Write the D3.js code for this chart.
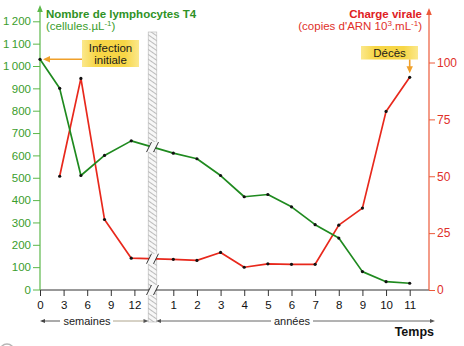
<!DOCTYPE html>
<html><head><meta charset="utf-8">
<script src="https://cdn.jsdelivr.net/npm/d3@7"></script>
<style>
body{margin:0;background:#fff}
svg text{font-family:"Liberation Sans",Arial,Helvetica,sans-serif}
</style>
</head><body>
<svg id="chart" width="464" height="346"></svg>
<script>
// Time: first weeks after infection, then years
const weekTicks = [0, 3, 6, 9, 12];
const yearTicks = [1, 2, 3, 4, 5, 6, 7, 8, 9, 10, 11];
const sampleWeeks = [0, 2.5, 5.2, 8.2, 11.6];
const sampleYears = [1, 2, 3, 4, 5, 6, 7, 8, 9, 10, 11];
// T4 lymphocytes (cells per µL)
const lymphoWeeks = [1030, 900, 510, 600, 665];
const lymphoYears = [610, 585, 510, 415, 425, 370, 290, 230, 80, 35, 28];
// Viral load (thousand RNA copies per mL); no measurement at week 0
const viralWeeks = [null, 50, 93, 31, 14];
const viralYears = [13.5, 13, 16.5, 10, 11.5, 11.3, 11.3, 28.5, 36, 78.5, 93.5];
const leftTicks = d3.range(0, 1201, 100);
const rightTicks = [0, 25, 50, 75, 100];

const GREEN_LINE = "#1f8a1f", GREEN_TXT = "#3a9d2c", GREEN_AXIS = "#5cb84a";
const RED_LINE = "#e8281c", RED_TXT = "#e0302a", RED_AXIS = "#ec5a3a";
const ORANGE = "#f0a02a";

const svg = d3.select("#chart");
const defs = svg.append("defs");

const xW = d3.scaleLinear([0, 12], [40, 134.4]);
const xY = d3.scaleLinear([1, 11], [173.3, 409.7]);
const yL = d3.scaleLinear([0, 1200], [289.5, 21.3]);
const yR = d3.scaleLinear([0, 100], [290, 62.5]);
const breakX = 152.5;

const lympho = sampleWeeks.map((t, i) => ({x: xW(t), v: lymphoWeeks[i]}))
  .concat(sampleYears.map((t, i) => ({x: xY(t), v: lymphoYears[i]})));
const viral = sampleWeeks.map((t, i) => ({x: xW(t), v: viralWeeks[i]}))
  .concat(sampleYears.map((t, i) => ({x: xY(t), v: viralYears[i]})))
  .filter(d => d.v != null);

// hatched band marking the change of time unit
const pat = defs.append("pattern").attr("id", "hatch")
  .attr("patternUnits", "userSpaceOnUse").attr("width", 4).attr("height", 4)
  .attr("patternTransform", "rotate(-55)");
pat.append("rect").attr("width", 4).attr("height", 4).attr("fill", "#f7f7f7");
pat.append("line").attr("x1", 0).attr("y1", 0).attr("x2", 0).attr("y2", 4)
  .attr("stroke", "#a2a2a2").attr("stroke-width", 1.4);

const gBox = defs.append("linearGradient").attr("id", "boxgrad");
gBox.append("stop").attr("offset", "0%").attr("stop-color", "#fbe88c");
gBox.append("stop").attr("offset", "25%").attr("stop-color", "#f7d646");
gBox.append("stop").attr("offset", "75%").attr("stop-color", "#f7d646");
gBox.append("stop").attr("offset", "100%").attr("stop-color", "#fbe88c");

svg.append("rect").attr("x", breakX - 4.3).attr("y", 32).attr("width", 8.6).attr("height", 290)
  .attr("fill", "url(#hatch)").attr("stroke", "#b4b4b4").attr("stroke-width", 0.6);

// axes
const fmt = d3.formatLocale({decimal: ",", thousands: "\u2009", grouping: [3], currency: ["", ""]}).format(",d");

const ax = svg.append("g");
ax.append("line").attr("x1", 40).attr("x2", 429).attr("y1", 290).attr("y2", 290)
  .attr("stroke", "#333").attr("stroke-width", 1);

const gl = svg.append("g").attr("transform", "translate(40,0)")
  .call(d3.axisLeft(yL).tickValues(leftTicks).tickSize(7).tickPadding(2).tickFormat(fmt));
gl.select(".domain").remove();
gl.selectAll("line").attr("stroke", GREEN_AXIS);
gl.selectAll("text").attr("fill", GREEN_TXT).style("font-size", "11.5px");

const gr = svg.append("g").attr("transform", "translate(429,0)")
  .call(d3.axisRight(yR).tickValues(rightTicks).tickSize(6).tickPadding(2));
gr.select(".domain").remove();
gr.selectAll("line").attr("stroke", RED_AXIS);
gr.selectAll("text").attr("fill", RED_TXT).style("font-size", "12px");

[[xW, weekTicks], [xY, yearTicks]].forEach(([s, tv]) => {
  const g = svg.append("g").attr("transform", "translate(0,290)")
    .call(d3.axisBottom(s).tickValues(tv).tickSize(6).tickPadding(5));
  g.select(".domain").remove();
  g.selectAll("line").attr("stroke", "#333");
  g.selectAll("text").attr("fill", "#111").style("font-size", "11.5px");
});

// vertical axis lines with arrow heads
ax.append("line").attr("x1", 40).attr("x2", 40).attr("y1", 290).attr("y2", 9)
  .attr("stroke", GREEN_AXIS).attr("stroke-width", 1.2);
ax.append("path").attr("d", "M40,5 L37.2,12 L42.8,12 Z").attr("fill", GREEN_AXIS);
ax.append("line").attr("x1", 429).attr("x2", 429).attr("y1", 290).attr("y2", 12)
  .attr("stroke", RED_AXIS).attr("stroke-width", 1.2);
ax.append("path").attr("d", "M429,8 L426.2,15 L431.8,15 Z").attr("fill", RED_AXIS);

// data lines
const lineL = d3.line().x(d => d.x).y(d => yL(d.v));
const lineR = d3.line().x(d => d.x).y(d => yR(d.v));
svg.append("path").datum(viral).attr("d", lineR).attr("fill", "none")
  .attr("stroke", RED_LINE).attr("stroke-width", 1.7).attr("stroke-linejoin", "round");
svg.append("path").datum(lympho).attr("d", lineL).attr("fill", "none")
  .attr("stroke", GREEN_LINE).attr("stroke-width", 1.7).attr("stroke-linejoin", "round");

svg.append("g").selectAll("circle").data(lympho).join("circle")
  .attr("cx", d => d.x).attr("cy", d => yL(d.v)).attr("r", 1.6).attr("fill", "#111");
svg.append("g").selectAll("circle").data(viral).join("circle")
  .attr("cx", d => d.x).attr("cy", d => yR(d.v)).attr("r", 1.6).attr("fill", "#111");

// break marks where lines and axis cross the band
function crossY(pts, y) {
  const i = pts.findIndex(d => d.x > breakX);
  const a = pts[i - 1], b = pts[i];
  const t = (breakX - a.x) / (b.x - a.x);
  return y(a.v) + t * (y(b.v) - y(a.v));
}
function breakMark(cy) {
  const g = svg.append("g").attr("transform", `translate(${breakX},${cy})`);
  g.append("path").attr("d", "M-6,5 L-1,-5 L6,-5 L1,5 Z").attr("fill", "#f7f7f7");
  g.append("line").attr("x1", -6).attr("y1", 5).attr("x2", -1).attr("y2", -5).attr("stroke", "#222").attr("stroke-width", 0.9);
  g.append("line").attr("x1", 1).attr("y1", 5).attr("x2", 6).attr("y2", -5).attr("stroke", "#222").attr("stroke-width", 0.9);
}
breakMark(290);
breakMark(crossY(lympho, yL));
breakMark(crossY(viral, yR));

// axis titles
const tL = svg.append("g").attr("fill", GREEN_TXT);
tL.append("text").attr("x", 46).attr("y", 18).style("font-size", "11.5px").style("font-weight", "bold")
  .attr("fill", "#2f9226").text("Nombre de lymphocytes T4");
const tl2 = tL.append("text").attr("x", 46).attr("y", 30).style("font-size", "11.5px");
tl2.append("tspan").text("(cellules.µL");
tl2.append("tspan").attr("dy", -4).style("font-size", "8px").text("-1");
tl2.append("tspan").attr("dy", 4).text(")");

const tR = svg.append("g").attr("fill", RED_TXT).attr("text-anchor", "end");
tR.append("text").attr("x", 422).attr("y", 18).style("font-size", "11.5px").style("font-weight", "bold")
  .attr("fill", "#e0201e").text("Charge virale");
const tr2 = tR.append("text").attr("x", 422).attr("y", 30).style("font-size", "11.5px");
tr2.append("tspan").text("(copies d'ARN 10");
tr2.append("tspan").attr("dy", -4).style("font-size", "8px").text("3");
tr2.append("tspan").attr("dy", 4).text(".mL");
tr2.append("tspan").attr("dy", -4).style("font-size", "8px").text("-1");
tr2.append("tspan").attr("dy", 4).text(")");

// annotations
function noteBox(x, y, w, h, lines) {
  svg.append("rect").attr("x", x).attr("y", y).attr("width", w).attr("height", h).attr("fill", "url(#boxgrad)");
  const t = svg.append("text").attr("text-anchor", "middle").attr("fill", "#1a1a1a").style("font-size", "11.5px");
  lines.forEach((s, i) => t.append("tspan").attr("x", x + w / 2)
    .attr("y", y + h / 2 + 4 + (i - (lines.length - 1) / 2) * 12).text(s));
}
noteBox(82, 40, 57, 27, ["Infection", "initiale"]);
noteBox(361, 46, 57, 13.5, ["Décès"]);

const p0 = lympho[0];
svg.append("line").attr("x1", 82).attr("x2", p0.x + 8).attr("y1", yL(p0.v)).attr("y2", yL(p0.v))
  .attr("stroke", ORANGE).attr("stroke-width", 1.6);
svg.append("path").attr("d", `M${p0.x + 3},${yL(p0.v)} l7,-3.2 l0,6.4 Z`).attr("fill", ORANGE);

const pe = viral[viral.length - 1];
svg.append("line").attr("x1", pe.x).attr("x2", pe.x).attr("y1", 59.5).attr("y2", yR(pe.v) - 9)
  .attr("stroke", ORANGE).attr("stroke-width", 1.6);
svg.append("path").attr("d", `M${pe.x},${yR(pe.v) - 4} l-3.2,-7 l6.4,0 Z`).attr("fill", ORANGE);

// time-unit spans under the axis
const yS = 321;
const spans = svg.append("g").attr("stroke-width", 0.9);
spans.append("line").attr("x1", 42).attr("x2", 60).attr("y1", yS).attr("y2", yS).attr("stroke", "#444");
spans.append("line").attr("x1", 113).attr("x2", 146).attr("y1", yS).attr("y2", yS).attr("stroke", "#a59a80");
spans.append("line").attr("x1", 158).attr("x2", 271).attr("y1", yS).attr("y2", yS).attr("stroke", "#555");
spans.append("line").attr("x1", 313).attr("x2", 432).attr("y1", yS).attr("y2", yS).attr("stroke", "#555");
spans.append("path").attr("d", `M40,${yS} l5,-2 l0,4 Z`).attr("fill", "#444");
spans.append("path").attr("d", `M148.5,${yS} l-5,-2 l0,4 Z`).attr("fill", "#555");
spans.append("path").attr("d", `M156,${yS} l5,-2 l0,4 Z`).attr("fill", "#555");
spans.append("path").attr("d", `M435,${yS} l-5,-2 l0,4 Z`).attr("fill", "#555");

svg.append("text").attr("x", 87).attr("y", yS + 4).attr("text-anchor", "middle")
  .attr("fill", "#222").style("font-size", "11px").text("semaines");
svg.append("text").attr("x", 292).attr("y", yS + 4).attr("text-anchor", "middle")
  .attr("fill", "#222").style("font-size", "11px").text("années");
svg.append("text").attr("x", 434).attr("y", 336).attr("text-anchor", "end")
  .attr("fill", "#111").style("font-size", "12.5px").style("font-weight", "bold").text("Temps");

svg.append("circle").attr("cx", 7).attr("cy", 351).attr("r", 7)
  .attr("fill", "none").attr("stroke", "#b5b5b5").attr("stroke-width", 1.5);
</script>
</body></html>
